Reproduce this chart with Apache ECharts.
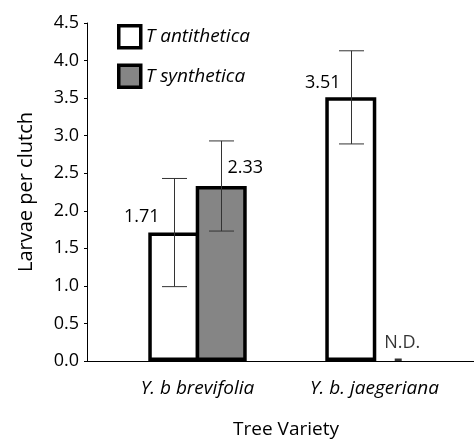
<!DOCTYPE html>
<html><head><meta charset="utf-8">
<script src="https://cdn.jsdelivr.net/npm/echarts@6/dist/echarts.min.js"></script>
<style>html,body{margin:0;padding:0;background:#fff}#c{width:474px;height:440px}</style>
</head><body><div id="c"></div>
<script>
var categories = ['Y. b brevifolia', 'Y. b. jaegeriana'];
var seriesNames = ['T antithetica', 'T synthetica'];
var antitheticaValues = [1.71, 3.51];
var antitheticaErrors = [0.72, 0.62];
var syntheticaValues = [2.33, null];
var syntheticaErrors = [0.60, null];
var noDataPoints = [[1, 0]];
var noDataLabel = 'N.D.';
var yTicks = [0, 0.5, 1.0, 1.5, 2.0, 2.5, 3.0, 3.5, 4.0, 4.5];

var FONT = 'Open Sans';
var BW = 51;
var GAP = -0.07;
var HALF = BW * (1 + GAP) / 2;
var chart = echarts.init(document.getElementById('c'));

var labelOffsets = { a: [[-32, -2], [-28, 0]], s: [[24, -4], [0, 0]] };

function barData(vals, offs) {
  return vals.map(function (v, i) {
    if (v == null) return null;
    return { value: v, label: { offset: offs[i] } };
  });
}
var errData = [];
antitheticaValues.forEach(function (v, i) { if (v != null) errData.push([i, v, antitheticaErrors[i], -1]); });
syntheticaValues.forEach(function (v, i) { if (v != null) errData.push([i, v, syntheticaErrors[i], 1]); });

var option = {
  animation: false,
  textStyle: { fontFamily: FONT, color: '#000' },
  grid: { left: 109, right: 11, top: 23, bottom: 79, outerBoundsMode: 'none', containLabel: false },
  legend: {
    orient: 'vertical', left: 112, top: 19, itemGap: 14, icon: 'rect',
    itemWidth: 22, itemHeight: 22,
    data: seriesNames,
    textStyle: { fontFamily: FONT, fontSize: 19, fontStyle: 'italic', color: '#000' },
    itemStyle: { borderColor: '#000', borderWidth: 3.5 }
  },
  xAxis: {
    type: 'category', data: categories,
    axisLine: { show: false }, axisTick: { show: false },
    axisLabel: { fontFamily: FONT, fontSize: 19, fontStyle: 'italic', color: '#000', margin: 18 },
    name: 'Tree Variety', nameLocation: 'middle', nameGap: 59,
    nameTextStyle: { fontFamily: FONT, fontSize: 19, color: '#000' }
  },
  yAxis: {
    type: 'value', min: 0, max: 4.5, interval: 0.5, offset: 22,
    axisLine: { show: true, lineStyle: { color: '#000', width: 1 } },
    axisTick: { show: true, length: 3, lineStyle: { color: '#000' } },
    splitLine: { show: false },
    axisLabel: { fontFamily: FONT, fontSize: 18, color: '#000', margin: 8,
      formatter: function (v) { return v.toFixed(1); } },
    name: 'Larvae per clutch', nameLocation: 'middle', nameGap: 51,
    nameTextStyle: { fontFamily: FONT, fontSize: 20, color: '#000' }
  },
  graphic: [{
    type: 'line', z: 1,
    shape: { x1: 87, y1: 361.5, x2: 474, y2: 361.5 },
    style: { stroke: '#000', lineWidth: 1 }
  }],
  series: [
    {
      name: seriesNames[0], type: 'bar', barWidth: BW, barGap: (GAP * 100) + '%', z: 3,
      data: barData(antitheticaValues, labelOffsets.a),
      itemStyle: { color: '#fff', borderColor: '#000', borderWidth: 3.5, borderRadius: 0, borderJoin: 'miter' },
      label: { show: true, position: 'top', fontFamily: FONT, fontSize: 18, color: '#000',
        formatter: function (p) { return p.value.toFixed(2); } }
    },
    {
      name: seriesNames[1], type: 'bar', barWidth: BW, barGap: (GAP * 100) + '%', z: 3,
      data: barData(syntheticaValues, labelOffsets.s),
      itemStyle: { color: '#858585', borderColor: '#000', borderWidth: 3.5, borderRadius: 0, borderJoin: 'miter' },
      label: { show: true, position: 'top', fontFamily: FONT, fontSize: 18, color: '#000',
        formatter: function (p) { return p.value.toFixed(2); } }
    },
    {
      type: 'custom', z: 10,
      data: errData,
      renderItem: function (params, api) {
        var c = api.value(0), v = api.value(1), e = api.value(2), s = api.value(3);
        var top = api.coord([c, v + e]);
        var bot = api.coord([c, v - e]);
        var x = Math.round(top[0] + s * HALF) + 0.5;
        var cap = 12.5;
        var st = { stroke: '#333', lineWidth: 1 };
        return { type: 'group', children: [
          { type: 'line', shape: { x1: x, y1: top[1], x2: x, y2: bot[1] }, style: st },
          { type: 'line', shape: { x1: x - cap, y1: top[1], x2: x + cap, y2: top[1] }, style: st },
          { type: 'line', shape: { x1: x - cap, y1: bot[1], x2: x + cap, y2: bot[1] }, style: st }
        ] };
      }
    },
    {
      type: 'scatter', z: 5, data: noDataPoints,
      symbol: 'rect', symbolSize: [7, 3], symbolOffset: [HALF, -1],
      itemStyle: { color: '#000' },
      label: { show: true, position: 'top', offset: [4, -2], fontFamily: FONT, fontSize: 18, color: '#000',
        formatter: function () { return noDataLabel; } }
    }
  ]
};
chart.setOption(option);
</script>
</body></html>
